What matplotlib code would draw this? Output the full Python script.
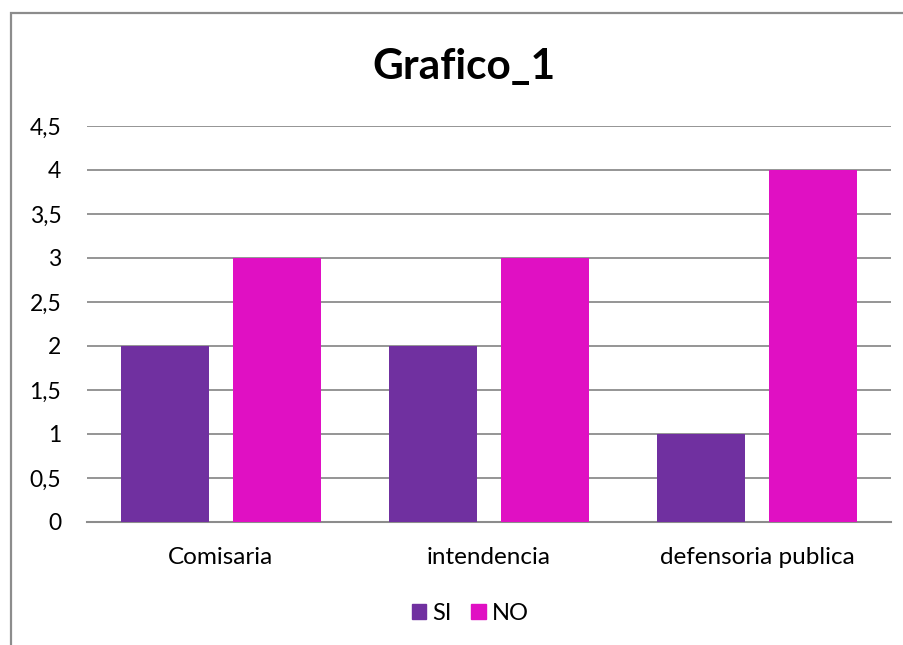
import numpy as np
import matplotlib.pyplot as plt
from matplotlib.patches import Rectangle, Patch

categories = ["Comisaria", "intendencia", "defensoria publica"]
si_vals = [2, 2, 1]
no_vals = [3, 3, 4]
yticks = [0, 0.5, 1, 1.5, 2, 2.5, 3, 3.5, 4, 4.5]
ytick_labels = ["0", "0,5", "1", "1,5", "2", "2,5", "3", "3,5", "4", "4,5"]

purple = "#7030A0"
magenta = "#E010C3"
grid_col = "#8C8C8C"

plt.rcParams['font.family'] = ['Lato', 'DejaVu Sans']

fig = plt.figure(figsize=(9.04, 6.45), dpi=100)
fig.patches.append(Rectangle((10.5 / 904, -0.1), 1.2, 1 - 13.5 / 645 + 0.1,
                             transform=fig.transFigure, fill=False,
                             edgecolor=grid_col, linewidth=1.6))

ax = fig.add_axes([87 / 904, 1 - 522 / 645, (891 - 87) / 904, (522 - 126) / 645])
x = np.arange(len(categories))
w = 0.33
ax.bar(x - 0.208, si_vals, w, color=purple, label="SI", zorder=3)
ax.bar(x + 0.208, no_vals, w, color=magenta, label="NO", zorder=3)

ax.set_xlim(-0.5, 2.5)
ax.set_ylim(0, 4.5)
ax.set_yticks(yticks)
ax.set_yticklabels(ytick_labels)
ax.set_xticks(x)
ax.set_xticklabels(categories)
ax.tick_params(axis="both", length=0)
ax.tick_params(axis="y", pad=18.5, labelsize=16.5)
ax.tick_params(axis="x", pad=18, labelsize=17.5)
ax.yaxis.grid(True, color=grid_col, linewidth=1.3, zorder=0)
for s in ["top", "right", "left"]:
    ax.spines[s].set_visible(False)
ax.spines["bottom"].set_color(grid_col)
ax.spines["bottom"].set_linewidth(1.5)

fig.text(464 / 904, 1 - 67 / 645, "Grafico_1", ha="center", va="center",
         fontsize=30.5, fontweight="bold")

handles = [Patch(color=purple, label="SI"), Patch(color=magenta, label="NO")]
fig.legend(handles=handles, loc="center", bbox_to_anchor=(470 / 904, 1 - 613 / 645),
           ncol=2, frameon=False, fontsize=17, handlelength=0.63, handleheight=0.6,
           handletextpad=0.25, columnspacing=0.8)

fig.savefig("out.png", dpi=100)
